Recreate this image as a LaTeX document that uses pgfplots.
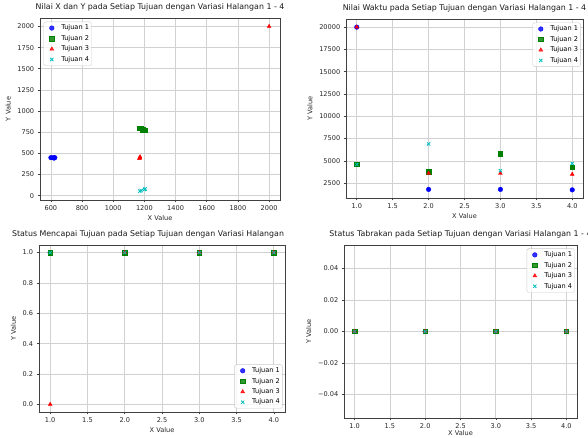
\documentclass[border=0pt]{standalone}
\usepackage{fontspec}
\setmainfont{DejaVu Sans}
\usepackage{pgfplots}
\pgfplotsset{compat=1.18}
\definecolor{mb}{rgb}{0,0,1}
\definecolor{mg}{rgb}{0,0.5,0}
\definecolor{mr}{rgb}{1,0,0}
\definecolor{mc}{rgb}{0,0.75,0.75}
\pgfplotsset{
 mpl/.style={
  scale only axis,
  axis line style={black!75, line width=0.6bp},
  grid=major, grid style={black!18, line width=0.7bp},
  tick pos=left, tick align=outside, major tick length=2.3bp,
  every tick/.style={black!75, line width=0.6bp},
  tick label style={font=\fontsize{6.6}{7}\selectfont, text=black!85},
  /pgf/number format/assume math mode=true,
  /pgf/number format/set thousands separator={},
  scaled ticks=false,
  label style={font=\fontsize{6.6}{7}\selectfont, text=black!85},
  xlabel style={yshift=2bp},
  title style={font=\fontsize{7.9}{9}\selectfont, text=black!90, yshift=-2.5bp},
  legend style={font=\fontsize{6.6}{9.3}\selectfont, draw=black!20, rounded corners=1.5bp, inner sep=1bp, fill=white, fill opacity=0.8, text opacity=1,
    nodes={inner xsep=1.5bp}},
  legend image code/.code={\path[draw=none,fill=none] (0bp,0bp) (15bp,0bp); \draw[##1, only marks] plot coordinates {(7bp,0bp)};},
  legend cell align=left,
  xlabel={X Value}, ylabel={Y Value},
 },
 halx/.style={xmin=0.85, xmax=4.15, xtick={1,1.5,...,4},
  xticklabel style={/pgf/number format/.cd, fixed, fixed zerofill, precision=1}},
 s1/.style={only marks, mark=*, mark size=2.3bp, color=mb},
 s2/.style={only marks, mark=square*, mark size=2.2bp, color=mg},
 s3/.style={only marks, mark=triangle*, mark size=2.2bp, color=mr},
 s4/.style={only marks, mark=x, mark size=2.3bp, color=mc, mark options={line width=0.8bp}},
}
\begin{document}
\begin{tikzpicture}[x=1bp,y=1bp]
\useasboundingbox (0,0) rectangle (588,438);
% Top-left
\begin{axis}[mpl, at={(40bp,238bp)}, anchor=south west, width=240bp, height=182bp,
  title={Nilai X dan Y pada Setiap Tujuan dengan Variasi Halangan 1 - 4},
  xmin=530, xmax=2070, ymin=-50, ymax=2100,
  xtick={600,800,...,2000}, ytick={0,250,...,2000},
  legend style={at={(0.015,0.98)}, anchor=north west}]
\addplot[s1] coordinates {(600,450) (615,450) (620,445) (625,450)};
\addplot[s2] coordinates {(1170,800) (1175,795) (1190,780) (1205,775)};
\addplot[s3] coordinates {(2000,2000) (1170,450) (1172,460) (1168,440)};
\addplot[s4] coordinates {(1170,55) (1180,60) (1200,75) (1205,80)};
\legend{Tujuan 1,Tujuan 2,Tujuan 3,Tujuan 4}
\end{axis}
% Top-right
\begin{axis}[mpl, halx, at={(346bp,240bp)}, anchor=south west, width=237bp, height=179bp,
  title={Nilai Waktu pada Setiap Tujuan dengan Variasi Halangan 1 - 4},
  ymin=838, ymax=20912, ytick={2500,5000,...,20000},
  legend style={at={(0.99,0.98)}, anchor=north east}]
\addplot[s1] coordinates {(1,20000) (2,1800) (3,1800) (4,1750)};
\addplot[s2] coordinates {(1,4600) (2,3800) (3,5800) (4,4300)};
\addplot[s3] coordinates {(1,20000) (2,3600) (3,3600) (4,3500)};
\addplot[s4] coordinates {(1,4600) (2,6900) (3,3900) (4,4700)};
\legend{Tujuan 1,Tujuan 2,Tujuan 3,Tujuan 4}
\end{axis}
% Bottom-left
\begin{axis}[mpl, halx, at={(39bp,26bp)}, anchor=south west, width=246bp, height=167bp,
  title={Status Mencapai Tujuan pada Setiap Tujuan dengan Variasi Halangan},
  title style={at={(-0.124,1)}, anchor=south west},
  ymin=-0.05, ymax=1.05, ytick={0,0.2,...,1.0},
  yticklabel style={/pgf/number format/.cd, fixed, fixed zerofill, precision=1},
  legend style={at={(0.99,0.02)}, anchor=south east}]
\addplot[s1] coordinates {(1,1) (2,1) (3,1) (4,1)};
\addplot[s2] coordinates {(1,1) (2,1) (3,1) (4,1)};
\addplot[s3] coordinates {(1,0) (2,1) (3,1) (4,1)};
\addplot[s4] coordinates {(1,1) (2,1) (3,1) (4,1)};
\legend{Tujuan 1,Tujuan 2,Tujuan 3,Tujuan 4}
\end{axis}
% Bottom-right
\begin{axis}[mpl, halx, at={(344bp,20bp)}, anchor=south west, width=233bp, height=173bp,
  title={Status Tabrakan pada Setiap Tujuan dengan Variasi Halangan 1 - 4},
  xlabel style={yshift=3.5bp},
  ymin=-0.055, ymax=0.055, ytick={-0.04,-0.02,0,0.02,0.04},
  yticklabels={−0.04,−0.02,0.00,0.02,0.04},
  legend style={at={(0.99,0.98)}, anchor=north east}]
\addplot[s1] coordinates {(1,0) (2,0) (3,0) (4,0)};
\addplot[s2] coordinates {(1,0) (2,0) (3,0) (4,0)};
\addplot[s3] coordinates {(1,0) (2,0) (3,0) (4,0)};
\addplot[s4] coordinates {(1,0) (2,0) (3,0) (4,0)};
\legend{Tujuan 1,Tujuan 2,Tujuan 3,Tujuan 4}
\end{axis}
\end{tikzpicture}
\end{document}
